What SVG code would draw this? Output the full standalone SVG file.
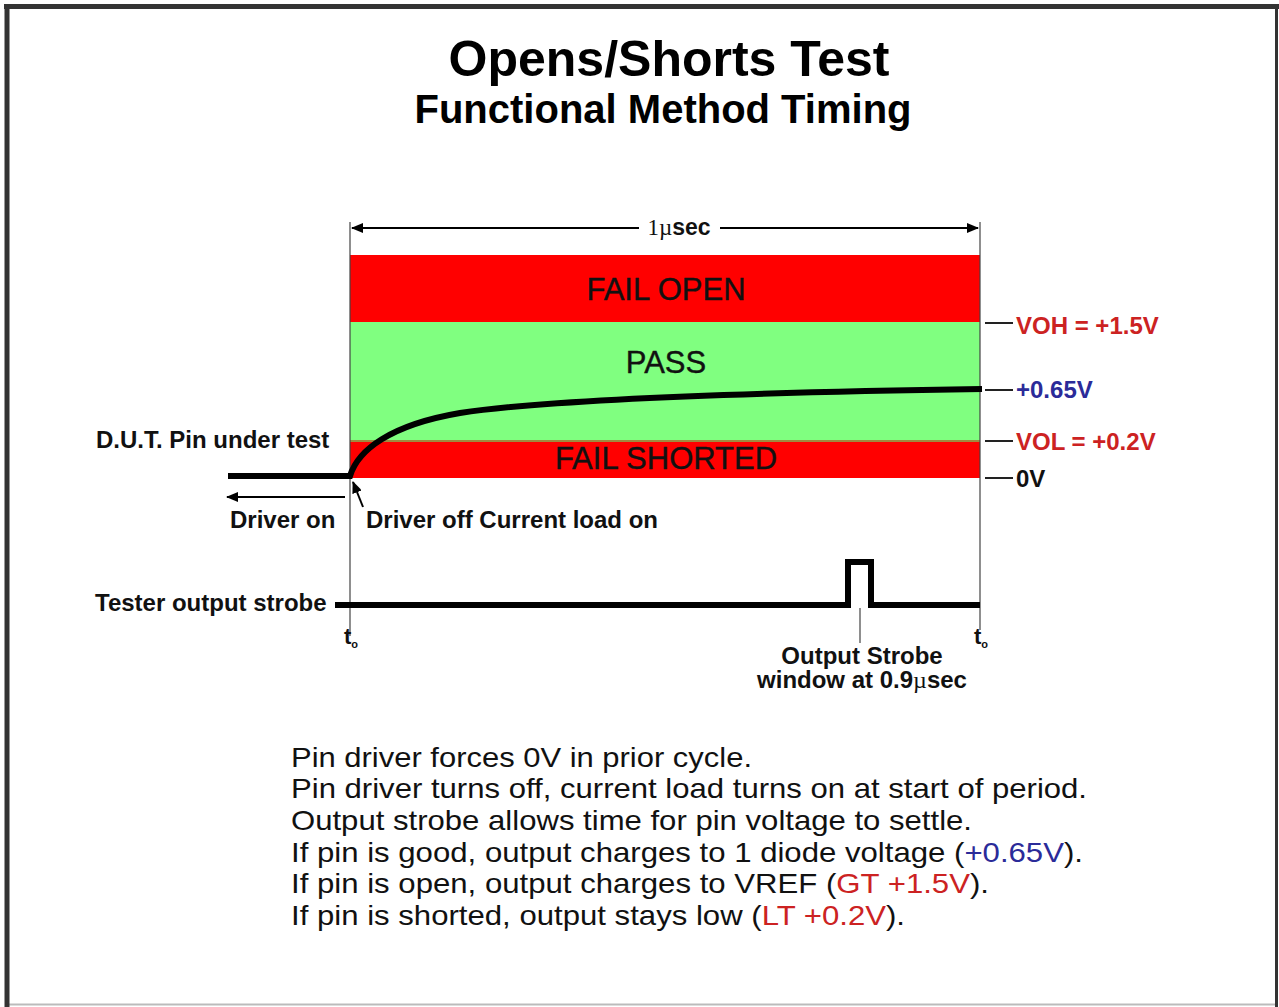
<svg xmlns="http://www.w3.org/2000/svg" width="1279" height="1007" viewBox="0 0 1279 1007">
<defs>
<marker id="ah" viewBox="0 0 12 10" refX="11" refY="5" markerWidth="12" markerHeight="10" markerUnits="userSpaceOnUse" orient="auto-start-reverse">
<path d="M0,0 L12,5 L0,10 z" fill="#000"/>
</marker>
<style>
text{font-family:"Liberation Sans",Arial,sans-serif;}
.band{font-size:31px;fill:#111;text-anchor:middle;stroke:#111;stroke-width:0.4;}
.red{fill:#cc2222;}
.blue{fill:#2b2b99;}
.lbl{font-weight:bold;font-size:24px;}
.body{font-size:28px;fill:#111;}
.thin{stroke:#444;stroke-width:1.2;fill:none;}
.tick{stroke:#222;stroke-width:2;}
.thick{stroke:#000;stroke-width:6;fill:none;}
</style>
</defs>
<rect x="0" y="0" width="1279" height="1007" fill="#fff"/>
<!-- frame -->
<rect x="7" y="6.5" width="1269" height="998" fill="none" stroke="#bbb" stroke-width="2"/>
<line x1="7" y1="4" x2="7" y2="1007" stroke="#333" stroke-width="5"/>
<line x1="4" y1="6.5" x2="1279" y2="6.5" stroke="#333" stroke-width="5"/>
<line x1="1276.5" y1="4" x2="1276.5" y2="1007" stroke="#333" stroke-width="3"/>

<g id="title">
<text x="669" y="76" text-anchor="middle" font-weight="bold" font-size="50" fill="#000">Opens/Shorts Test</text>
<text x="663" y="123" text-anchor="middle" font-weight="bold" font-size="40" fill="#000">Functional Method Timing</text>
</g>

<g id="bands">
<rect x="350" y="255" width="630" height="67" fill="#ff0000"/>
<rect x="350" y="322" width="630" height="118" fill="#80ff80"/>
<rect x="350" y="440" width="630" height="2" fill="#a08a40"/>
<rect x="350" y="442" width="630" height="36" fill="#ff0000"/>
<text class="band" x="666" y="300">FAIL OPEN</text>
<text class="band" x="666" y="373">PASS</text>
<text class="band" x="666" y="469">FAIL SHORTED</text>
</g>

<g id="connectors">
<line class="thin" x1="350" y1="222" x2="350" y2="636"/>
<line class="thin" x1="980" y1="222" x2="980" y2="630"/>
<line x1="352" y1="228" x2="639" y2="228" stroke="#000" stroke-width="2" marker-start="url(#ah)"/>
<line x1="720" y1="228" x2="978" y2="228" stroke="#000" stroke-width="2" marker-end="url(#ah)"/>
<line class="tick" x1="985" y1="323" x2="1013" y2="323"/>
<line class="tick" x1="985" y1="390" x2="1013" y2="390"/>
<line class="tick" x1="985" y1="441" x2="1013" y2="441"/>
<line class="tick" x1="985" y1="478" x2="1013" y2="478"/>
<line x1="345" y1="497" x2="227" y2="497" stroke="#000" stroke-width="2" marker-end="url(#ah)"/>
<line x1="363" y1="507" x2="353" y2="482" stroke="#000" stroke-width="2" marker-end="url(#ah)"/>
<line class="thin" x1="860" y1="608" x2="860" y2="643"/>
</g>

<g id="dut">
<path class="thick" d="M228,476 L350,476 C358,450 390,425 460,413 C540,401 700,393 982,389"/>
<text class="lbl" x="96" y="448" fill="#111">D.U.T. Pin under test</text>
<text class="lbl" x="230" y="528" fill="#111">Driver on</text>
<text class="lbl" x="366" y="528" fill="#111">Driver off Current load on</text>
</g>

<g id="strobe">
<path d="M335,605 L848,605 L848,562 L871,562 L871,605 L980,605" fill="none" stroke="#000" stroke-width="6"/>
<text class="lbl" x="95" y="611" fill="#111">Tester output strobe</text>
<text class="lbl" x="862" y="664" text-anchor="middle" fill="#111">Output Strobe</text>
<text class="lbl" x="862" y="688" text-anchor="middle" fill="#111">window at 0.9<tspan font-family="'Liberation Serif',serif" font-weight="normal">µ</tspan>sec</text>
</g>

<g id="dim">
<text x="679" y="235" text-anchor="middle" font-size="23" fill="#111"><tspan font-family="'Liberation Serif',serif">1µ</tspan><tspan font-weight="bold">sec</tspan></text>
</g>

<g id="t0">
<text x="344" y="644" font-weight="bold" font-size="22" fill="#111">t<tspan font-size="11" dy="4">o</tspan></text>
<text x="974" y="644" font-weight="bold" font-size="22" fill="#111">t<tspan font-size="11" dy="4">o</tspan></text>
</g>

<g id="levels">
<text class="lbl red" x="1016" y="334">VOH = +1.5V</text>
<text class="lbl blue" x="1016" y="398">+0.65V</text>
<text class="lbl red" x="1016" y="450">VOL = +0.2V</text>
<text class="lbl" x="1016" y="487" fill="#111">0V</text>
</g>

<g id="notes">
<text class="body" x="291" y="767" textLength="461" lengthAdjust="spacingAndGlyphs">Pin driver forces 0V in prior cycle.</text>
<text class="body" x="291" y="798" textLength="796" lengthAdjust="spacingAndGlyphs">Pin driver turns off, current load turns on at start of period.</text>
<text class="body" x="291" y="830" textLength="681" lengthAdjust="spacingAndGlyphs">Output strobe allows time for pin voltage to settle.</text>
<text class="body" x="291" y="862" textLength="792" lengthAdjust="spacingAndGlyphs">If pin is good, output charges to 1 diode voltage (<tspan class="blue">+0.65V</tspan>).</text>
<text class="body" x="291" y="893" textLength="698" lengthAdjust="spacingAndGlyphs">If pin is open, output charges to VREF (<tspan class="red">GT +1.5V</tspan>).</text>
<text class="body" x="291" y="925" textLength="614" lengthAdjust="spacingAndGlyphs">If pin is shorted, output stays low (<tspan class="red">LT +0.2V</tspan>).</text>
</g>
</svg>
